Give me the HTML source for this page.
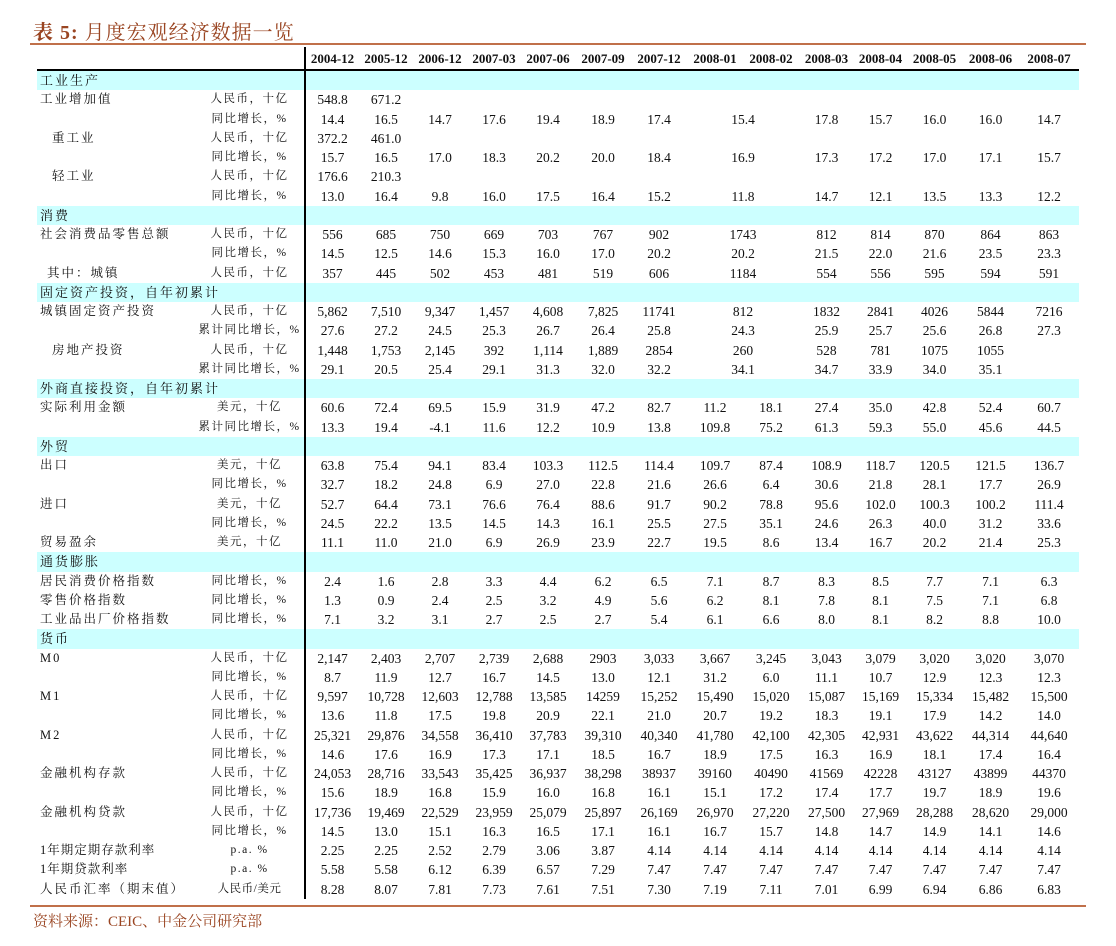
<!DOCTYPE html>
<html><head><meta charset="utf-8">
<style>
body{margin:0;width:1116px;height:946px;background:#fff;position:relative;overflow:hidden;font-family:"Liberation Serif","Noto Serif CJK SC",serif;color:#111;}
.title{position:absolute;left:33px;top:16px;font-size:20px;color:#9a4522;font-weight:bold;letter-spacing:1px;white-space:nowrap}
.title span{font-weight:normal}
.hl{position:absolute;left:30px;width:1056px;height:2px;background:#c0704a}
.foot{position:absolute;left:33px;top:910px;font-size:15px;color:#9a4522;white-space:nowrap}
table{position:absolute;left:37px;top:47px;border-collapse:collapse;table-layout:fixed;width:1042px}
td{padding:0;text-align:center;font-size:13.5px;white-space:nowrap;height:19.26px;line-height:19px;overflow:visible}
tr.h td{height:22px;font-weight:bold;font-size:13px;border-bottom:2px solid #000;vertical-align:bottom;line-height:20px}
td.l{text-align:left;padding-left:3px;font-size:12.5px;letter-spacing:2px}
td.i{padding-left:15px}
td.u{font-size:11.5px;letter-spacing:1.5px}
td.v{border-left:2px solid #000}
tr.s td{background:#ccffff}
tr.s td.l{font-size:13px}
</style></head><body>
<div class="title">表 5: <span>月度宏观经济数据一览</span></div>
<div class="hl" style="top:43px"></div>
<div class="hl" style="top:905px"></div>
<div class="foot">资料来源：CEIC、中金公司研究部</div>
<table>
<colgroup><col style="width:158px"><col style="width:110px"><col style="width:54px"><col style="width:54px"><col style="width:54px"><col style="width:54px"><col style="width:54px"><col style="width:56px"><col style="width:56px"><col style="width:56px"><col style="width:56px"><col style="width:55px"><col style="width:53px"><col style="width:55px"><col style="width:57px"><col style="width:60px"></colgroup>
<tr class="h"><td></td><td></td><td class="v">2004-12</td><td>2005-12</td><td>2006-12</td><td>2007-03</td><td>2007-06</td><td>2007-09</td><td>2007-12</td><td>2008-01</td><td>2008-02</td><td>2008-03</td><td>2008-04</td><td>2008-05</td><td>2008-06</td><td>2008-07</td></tr>
<tr class="s"><td class="l" colspan="2">工业生产</td><td class="v" colspan="14"></td></tr>
<tr><td class="l">工业增加值</td><td class="u">人民币，十亿</td><td class="v">548.8</td><td>671.2</td><td></td><td></td><td></td><td></td><td></td><td></td><td></td><td></td><td></td><td></td><td></td><td></td></tr>
<tr><td></td><td class="u">同比增长，%</td><td class="v">14.4</td><td>16.5</td><td>14.7</td><td>17.6</td><td>19.4</td><td>18.9</td><td>17.4</td><td colspan="2">15.4</td><td>17.8</td><td>15.7</td><td>16.0</td><td>16.0</td><td>14.7</td></tr>
<tr><td class="l i">重工业</td><td class="u">人民币，十亿</td><td class="v">372.2</td><td>461.0</td><td></td><td></td><td></td><td></td><td></td><td></td><td></td><td></td><td></td><td></td><td></td><td></td></tr>
<tr><td></td><td class="u">同比增长，%</td><td class="v">15.7</td><td>16.5</td><td>17.0</td><td>18.3</td><td>20.2</td><td>20.0</td><td>18.4</td><td colspan="2">16.9</td><td>17.3</td><td>17.2</td><td>17.0</td><td>17.1</td><td>15.7</td></tr>
<tr><td class="l i">轻工业</td><td class="u">人民币，十亿</td><td class="v">176.6</td><td>210.3</td><td></td><td></td><td></td><td></td><td></td><td></td><td></td><td></td><td></td><td></td><td></td><td></td></tr>
<tr><td></td><td class="u">同比增长，%</td><td class="v">13.0</td><td>16.4</td><td>9.8</td><td>16.0</td><td>17.5</td><td>16.4</td><td>15.2</td><td colspan="2">11.8</td><td>14.7</td><td>12.1</td><td>13.5</td><td>13.3</td><td>12.2</td></tr>
<tr class="s"><td class="l" colspan="2">消费</td><td class="v" colspan="14"></td></tr>
<tr><td class="l">社会消费品零售总额</td><td class="u">人民币，十亿</td><td class="v">556</td><td>685</td><td>750</td><td>669</td><td>703</td><td>767</td><td>902</td><td colspan="2">1743</td><td>812</td><td>814</td><td>870</td><td>864</td><td>863</td></tr>
<tr><td></td><td class="u">同比增长，%</td><td class="v">14.5</td><td>12.5</td><td>14.6</td><td>15.3</td><td>16.0</td><td>17.0</td><td>20.2</td><td colspan="2">20.2</td><td>21.5</td><td>22.0</td><td>21.6</td><td>23.5</td><td>23.3</td></tr>
<tr><td class="l" style="padding-left:10px">其中：城镇</td><td class="u">人民币，十亿</td><td class="v">357</td><td>445</td><td>502</td><td>453</td><td>481</td><td>519</td><td>606</td><td colspan="2">1184</td><td>554</td><td>556</td><td>595</td><td>594</td><td>591</td></tr>
<tr class="s"><td class="l" colspan="2">固定资产投资，自年初累计</td><td class="v" colspan="14"></td></tr>
<tr><td class="l">城镇固定资产投资</td><td class="u">人民币，十亿</td><td class="v">5,862</td><td>7,510</td><td>9,347</td><td>1,457</td><td>4,608</td><td>7,825</td><td>11741</td><td colspan="2">812</td><td>1832</td><td>2841</td><td>4026</td><td>5844</td><td>7216</td></tr>
<tr><td></td><td class="u">累计同比增长，%</td><td class="v">27.6</td><td>27.2</td><td>24.5</td><td>25.3</td><td>26.7</td><td>26.4</td><td>25.8</td><td colspan="2">24.3</td><td>25.9</td><td>25.7</td><td>25.6</td><td>26.8</td><td>27.3</td></tr>
<tr><td class="l i">房地产投资</td><td class="u">人民币，十亿</td><td class="v">1,448</td><td>1,753</td><td>2,145</td><td>392</td><td>1,114</td><td>1,889</td><td>2854</td><td colspan="2">260</td><td>528</td><td>781</td><td>1075</td><td>1055</td><td></td></tr>
<tr><td></td><td class="u">累计同比增长，%</td><td class="v">29.1</td><td>20.5</td><td>25.4</td><td>29.1</td><td>31.3</td><td>32.0</td><td>32.2</td><td colspan="2">34.1</td><td>34.7</td><td>33.9</td><td>34.0</td><td>35.1</td><td></td></tr>
<tr class="s"><td class="l" colspan="2">外商直接投资，自年初累计</td><td class="v" colspan="14"></td></tr>
<tr><td class="l">实际利用金额</td><td class="u">美元，十亿</td><td class="v">60.6</td><td>72.4</td><td>69.5</td><td>15.9</td><td>31.9</td><td>47.2</td><td>82.7</td><td>11.2</td><td>18.1</td><td>27.4</td><td>35.0</td><td>42.8</td><td>52.4</td><td>60.7</td></tr>
<tr><td></td><td class="u">累计同比增长，%</td><td class="v">13.3</td><td>19.4</td><td>-4.1</td><td>11.6</td><td>12.2</td><td>10.9</td><td>13.8</td><td>109.8</td><td>75.2</td><td>61.3</td><td>59.3</td><td>55.0</td><td>45.6</td><td>44.5</td></tr>
<tr class="s"><td class="l" colspan="2">外贸</td><td class="v" colspan="14"></td></tr>
<tr><td class="l">出口</td><td class="u">美元，十亿</td><td class="v">63.8</td><td>75.4</td><td>94.1</td><td>83.4</td><td>103.3</td><td>112.5</td><td>114.4</td><td>109.7</td><td>87.4</td><td>108.9</td><td>118.7</td><td>120.5</td><td>121.5</td><td>136.7</td></tr>
<tr><td></td><td class="u">同比增长，%</td><td class="v">32.7</td><td>18.2</td><td>24.8</td><td>6.9</td><td>27.0</td><td>22.8</td><td>21.6</td><td>26.6</td><td>6.4</td><td>30.6</td><td>21.8</td><td>28.1</td><td>17.7</td><td>26.9</td></tr>
<tr><td class="l">进口</td><td class="u">美元，十亿</td><td class="v">52.7</td><td>64.4</td><td>73.1</td><td>76.6</td><td>76.4</td><td>88.6</td><td>91.7</td><td>90.2</td><td>78.8</td><td>95.6</td><td>102.0</td><td>100.3</td><td>100.2</td><td>111.4</td></tr>
<tr><td></td><td class="u">同比增长，%</td><td class="v">24.5</td><td>22.2</td><td>13.5</td><td>14.5</td><td>14.3</td><td>16.1</td><td>25.5</td><td>27.5</td><td>35.1</td><td>24.6</td><td>26.3</td><td>40.0</td><td>31.2</td><td>33.6</td></tr>
<tr><td class="l">贸易盈余</td><td class="u">美元，十亿</td><td class="v">11.1</td><td>11.0</td><td>21.0</td><td>6.9</td><td>26.9</td><td>23.9</td><td>22.7</td><td>19.5</td><td>8.6</td><td>13.4</td><td>16.7</td><td>20.2</td><td>21.4</td><td>25.3</td></tr>
<tr class="s"><td class="l" colspan="2">通货膨胀</td><td class="v" colspan="14"></td></tr>
<tr><td class="l">居民消费价格指数</td><td class="u">同比增长，%</td><td class="v">2.4</td><td>1.6</td><td>2.8</td><td>3.3</td><td>4.4</td><td>6.2</td><td>6.5</td><td>7.1</td><td>8.7</td><td>8.3</td><td>8.5</td><td>7.7</td><td>7.1</td><td>6.3</td></tr>
<tr><td class="l">零售价格指数</td><td class="u">同比增长，%</td><td class="v">1.3</td><td>0.9</td><td>2.4</td><td>2.5</td><td>3.2</td><td>4.9</td><td>5.6</td><td>6.2</td><td>8.1</td><td>7.8</td><td>8.1</td><td>7.5</td><td>7.1</td><td>6.8</td></tr>
<tr><td class="l">工业品出厂价格指数</td><td class="u">同比增长，%</td><td class="v">7.1</td><td>3.2</td><td>3.1</td><td>2.7</td><td>2.5</td><td>2.7</td><td>5.4</td><td>6.1</td><td>6.6</td><td>8.0</td><td>8.1</td><td>8.2</td><td>8.8</td><td>10.0</td></tr>
<tr class="s"><td class="l" colspan="2">货币</td><td class="v" colspan="14"></td></tr>
<tr><td class="l">M0</td><td class="u">人民币，十亿</td><td class="v">2,147</td><td>2,403</td><td>2,707</td><td>2,739</td><td>2,688</td><td>2903</td><td>3,033</td><td>3,667</td><td>3,245</td><td>3,043</td><td>3,079</td><td>3,020</td><td>3,020</td><td>3,070</td></tr>
<tr><td></td><td class="u">同比增长，%</td><td class="v">8.7</td><td>11.9</td><td>12.7</td><td>16.7</td><td>14.5</td><td>13.0</td><td>12.1</td><td>31.2</td><td>6.0</td><td>11.1</td><td>10.7</td><td>12.9</td><td>12.3</td><td>12.3</td></tr>
<tr><td class="l">M1</td><td class="u">人民币，十亿</td><td class="v">9,597</td><td>10,728</td><td>12,603</td><td>12,788</td><td>13,585</td><td>14259</td><td>15,252</td><td>15,490</td><td>15,020</td><td>15,087</td><td>15,169</td><td>15,334</td><td>15,482</td><td>15,500</td></tr>
<tr><td></td><td class="u">同比增长，%</td><td class="v">13.6</td><td>11.8</td><td>17.5</td><td>19.8</td><td>20.9</td><td>22.1</td><td>21.0</td><td>20.7</td><td>19.2</td><td>18.3</td><td>19.1</td><td>17.9</td><td>14.2</td><td>14.0</td></tr>
<tr><td class="l">M2</td><td class="u">人民币，十亿</td><td class="v">25,321</td><td>29,876</td><td>34,558</td><td>36,410</td><td>37,783</td><td>39,310</td><td>40,340</td><td>41,780</td><td>42,100</td><td>42,305</td><td>42,931</td><td>43,622</td><td>44,314</td><td>44,640</td></tr>
<tr><td></td><td class="u">同比增长，%</td><td class="v">14.6</td><td>17.6</td><td>16.9</td><td>17.3</td><td>17.1</td><td>18.5</td><td>16.7</td><td>18.9</td><td>17.5</td><td>16.3</td><td>16.9</td><td>18.1</td><td>17.4</td><td>16.4</td></tr>
<tr><td class="l">金融机构存款</td><td class="u">人民币，十亿</td><td class="v">24,053</td><td>28,716</td><td>33,543</td><td>35,425</td><td>36,937</td><td>38,298</td><td>38937</td><td>39160</td><td>40490</td><td>41569</td><td>42228</td><td>43127</td><td>43899</td><td>44370</td></tr>
<tr><td></td><td class="u">同比增长，%</td><td class="v">15.6</td><td>18.9</td><td>16.8</td><td>15.9</td><td>16.0</td><td>16.8</td><td>16.1</td><td>15.1</td><td>17.2</td><td>17.4</td><td>17.7</td><td>19.7</td><td>18.9</td><td>19.6</td></tr>
<tr><td class="l">金融机构贷款</td><td class="u">人民币，十亿</td><td class="v">17,736</td><td>19,469</td><td>22,529</td><td>23,959</td><td>25,079</td><td>25,897</td><td>26,169</td><td>26,970</td><td>27,220</td><td>27,500</td><td>27,969</td><td>28,288</td><td>28,620</td><td>29,000</td></tr>
<tr><td></td><td class="u">同比增长，%</td><td class="v">14.5</td><td>13.0</td><td>15.1</td><td>16.3</td><td>16.5</td><td>17.1</td><td>16.1</td><td>16.7</td><td>15.7</td><td>14.8</td><td>14.7</td><td>14.9</td><td>14.1</td><td>14.6</td></tr>
<tr><td class="l" style="letter-spacing:1px">1年期定期存款利率</td><td class="u">p.a. %</td><td class="v">2.25</td><td>2.25</td><td>2.52</td><td>2.79</td><td>3.06</td><td>3.87</td><td>4.14</td><td>4.14</td><td>4.14</td><td>4.14</td><td>4.14</td><td>4.14</td><td>4.14</td><td>4.14</td></tr>
<tr><td class="l" style="letter-spacing:1px">1年期贷款利率</td><td class="u">p.a. %</td><td class="v">5.58</td><td>5.58</td><td>6.12</td><td>6.39</td><td>6.57</td><td>7.29</td><td>7.47</td><td>7.47</td><td>7.47</td><td>7.47</td><td>7.47</td><td>7.47</td><td>7.47</td><td>7.47</td></tr>
<tr><td class="l">人民币汇率（期末值）</td><td class="u" style="letter-spacing:0.5px">人民币/美元</td><td class="v">8.28</td><td>8.07</td><td>7.81</td><td>7.73</td><td>7.61</td><td>7.51</td><td>7.30</td><td>7.19</td><td>7.11</td><td>7.01</td><td>6.99</td><td>6.94</td><td>6.86</td><td>6.83</td></tr>
</table>
</body></html>
